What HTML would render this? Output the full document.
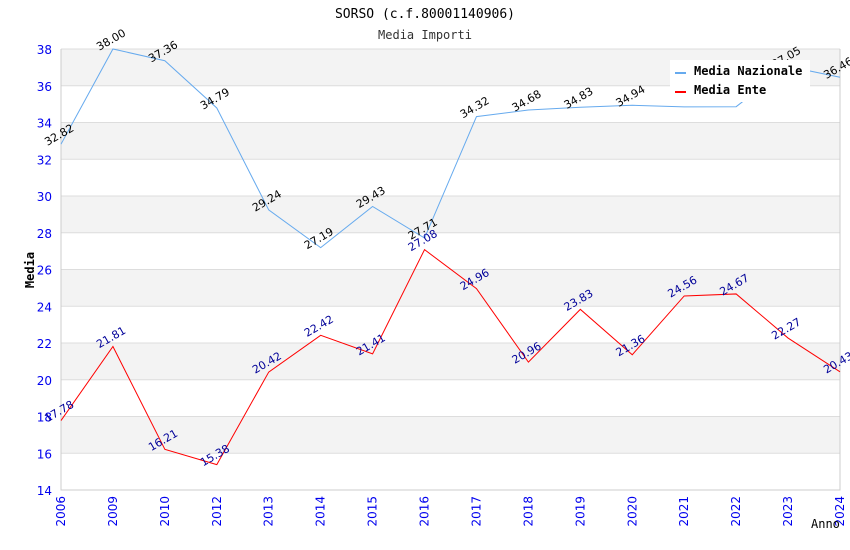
<!DOCTYPE html>
<html><head><meta charset="utf-8"><style>
body{margin:0;background:#fff;}
svg{display:block;font-family:"DejaVu Sans Mono","Liberation Mono",monospace;}
</style></head><body>
<svg id="c" width="850" height="550"></svg>
<script>
const categories=["2006","2009","2010","2012","2013","2014","2015","2016","2017","2018","2019","2020","2021","2022","2023","2024"];
const nazionale=[32.82,38.00,37.36,34.79,29.24,27.19,29.43,27.71,34.32,34.68,34.83,34.94,34.85,34.86,37.05,36.46];
const ente=[17.78,21.81,16.21,15.38,20.42,22.42,21.41,27.08,24.96,20.96,23.83,21.36,24.56,24.67,22.27,20.43];
const yTicks=[14,16,18,20,22,24,26,28,30,32,34,36,38];
const showNazLabel=[1,1,1,1,1,1,1,1,1,1,1,1,0,0,1,1];
const L=61,R=840,T=49,B=490,yMin=14,yMax=38;
const NS="http://www.w3.org/2000/svg";
const svg=document.getElementById('c');
function x(i){return L+i*(R-L)/(categories.length-1);}
function y(v){return B-(v-yMin)/(yMax-yMin)*(B-T);}
function mk(t,a){const e=document.createElementNS(NS,t);for(const k in a)e.setAttribute(k,a[k]);svg.appendChild(e);return e;}
for(let i=0;i<yTicks.length-1;i++){
  if(i%2===1){const r=mk('rect',{x:L,y:y(yTicks[i+1]),width:R-L,height:y(yTicks[i])-y(yTicks[i+1]),fill:'#f3f3f3'});
  
  }
}
yTicks.forEach(v=>{
  const g=mk('line',{x1:L,x2:R,y1:y(v),y2:y(v),stroke:'#dddddd','stroke-width':1});
  
  
  const t=mk('text',{x:L-9,y:y(v)+5,'text-anchor':'end','font-size':12,fill:'#0000ee','font-family':'DejaVu Sans, sans-serif'});
  t.textContent=v;
  
  
});
const ax=mk('path',{d:`M${L},${T}V${B}H${R}V${T}`,fill:'none',stroke:'#cccccc'});


categories.forEach((c,i)=>{
  const t=mk('text',{transform:`translate(${x(i)+4},${B+6}) rotate(-90)`,'text-anchor':'end','font-size':12,fill:'#0000ee','font-family':'DejaVu Sans, sans-serif'});
  t.textContent=c;
  
  
});
function series(vals,color,lblColor,name,show){
  const p=mk('polyline',{points:vals.map((v,i)=>x(i)+','+y(v)).join(' '),fill:'none',stroke:color,'stroke-width':1});
  
  
  vals.forEach((v,i)=>{
    if(show&&!show[i])return;
    const t=mk('text',{transform:`translate(${x(i)},${y(v)-6}) rotate(-30)`,'text-anchor':'middle','font-size':11,fill:lblColor,'font-family':'DejaVu Sans, sans-serif'});
    t.textContent=v.toFixed(2);
    
    
  });
}
series(nazionale,'#66aaee','#000','nazionale',showNazLabel);
series(ente,'#ff0000','#000099','ente');
const ti=mk('text',{x:425,y:18,'text-anchor':'middle','font-size':13,fill:'#000'});
ti.textContent='SORSO (c.f.80001140906)';


const st=mk('text',{x:425,y:39,'text-anchor':'middle','font-size':12,fill:'#333'});
st.textContent='Media Importi';


const yl=mk('text',{transform:'translate(34,270) rotate(-90)','text-anchor':'middle','font-size':12,'font-weight':'bold',fill:'#000'});
yl.textContent='Media';


const xl=mk('text',{x:811,y:528,'font-size':12,fill:'#000'});
xl.textContent='Anno';


const lg=mk('rect',{x:670,y:60,width:140,height:42,fill:'#fff'});


[['Media Nazionale','#66aaee',72],['Media Ente','#ff0000',91]].forEach(([n,c,yy])=>{
  const r=mk('rect',{x:675,y:yy,width:11,height:2,fill:c});
  
  
  const t=mk('text',{x:694,y:yy+3,'font-size':12,'font-weight':'bold',fill:'#000'});
  t.textContent=n;
  
  
});
</script>
</body></html>
